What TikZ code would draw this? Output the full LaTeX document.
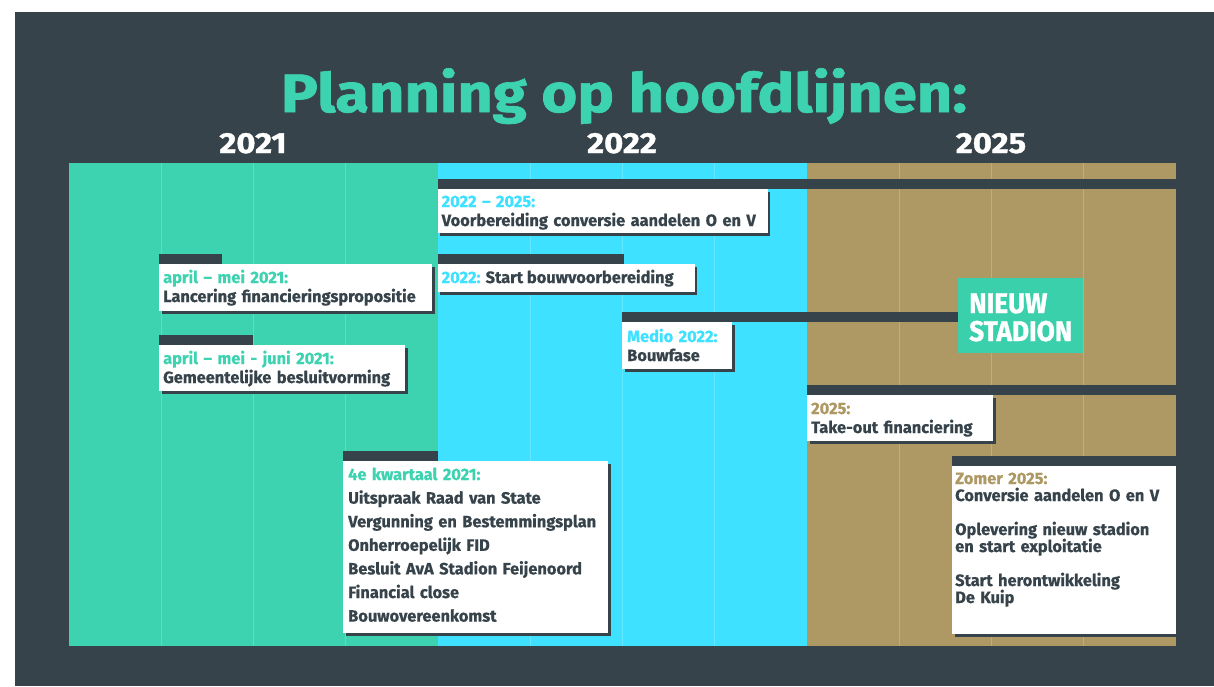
\documentclass[tikz,border=0pt]{standalone}
\usepackage{fontspec}
\usepackage{graphicx}
\setmainfont{Fira Sans}[BoldFeatures={FakeBold=0.7}]
\newfontfamily\headfont{Fira Sans}[UprightFont={* Bold}, FakeBold=1.2]
\usetikzlibrary{calc,shadows}

\definecolor{slate}{HTML}{37434A}
\definecolor{mint}{HTML}{3DD3B1}
\definecolor{sky}{HTML}{3EE1FF}
\definecolor{sand}{HTML}{AE9964}
\definecolor{logomint}{HTML}{3BD0AC}

\tikzset{
  band/.style={fill=#1, draw=none},
  gridline/.style={draw=white, draw opacity=0.2, line width=1.1pt},
  bar/.style={fill=slate, draw=none},
  card/.style={fill=white, draw=none, inner sep=0pt, anchor=north west,
    drop shadow={shadow xshift=2.5pt, shadow yshift=-2.5pt, fill=slate, opacity=1}},
  lbl/.style={anchor=base west, inner sep=0pt, align=left, text=slate,
    font=\bfseries\fontsize{16.4}{19}\selectfont},
  title/.style={anchor=base, inner sep=0pt, text=mint,
    font=\headfont\fontsize{54}{60}\selectfont},
  year/.style={anchor=base, inner sep=0pt, text=white,
    font=\headfont\fontsize{29}{32}\selectfont},
}

\begin{document}
\begin{tikzpicture}[x=1pt, y=-1pt]
  % canvas and dark panel
  \useasboundingbox (0,0) rectangle (1214,686);
  \fill[white] (0,0) rectangle (1214,686);
  \fill[slate] (15,12) rectangle (1214,686);

  % heading and year labels
  \node[title] (title) at (624,112) {\scalebox{1.14}[1]{Planning op hoofdlijnen:}};
  \node[year] (y2021) at (253,153) {\scalebox{1.13}[1]{2021}};
  \node[year] (y2022) at (622,153) {\scalebox{1.13}[1]{2022}};
  \node[year] (y2025) at (991,153) {\scalebox{1.13}[1]{2025}};

  % coloured year bands
  \fill[band=mint] (69,163) rectangle (437.5,646);
  \fill[band=sky]  (437.5,163) rectangle (807,646);
  \fill[band=sand] (807,163) rectangle (1176,646);
  \foreach \k in {1,2,3,5,6,7,9,10,11}
    \draw[gridline] ({69+92.25*\k},163) -- ({69+92.25*\k},646);

  % 2022 - 2025: voorbereiding conversie
  \fill[bar] (437.5,179) rectangle (1176,189);
  \node[card, minimum width=330pt, minimum height=44pt] (c1) at (437.5,189) {};
  \node[lbl, text width=330pt] (t1) at ($(c1.north west)+(4,18)$)
    {\textcolor{sky}{2022 – 2025:}\\Voorbereiding conversie aandelen O en V};

  % 2022: start bouwvoorbereiding
  \fill[bar] (437.5,254) rectangle (624,264);
  \node[card, minimum width=257pt, minimum height=28pt] (c2) at (437.5,264) {};
  \node[lbl] (t2) at ($(c2.north west)+(4,19)$)
    {\textcolor{sky}{2022:} Start bouwvoorbereiding};

  % medio 2022: bouwfase, running to the new stadium
  \node[fill=logomint, inner sep=0pt, anchor=north west,
        minimum width=125pt, minimum height=75pt] (logo) at (958,278) {};
  \node[anchor=base west, inner sep=0pt, text=white, align=left, text width=120pt,
        font=\headfont\fontsize{28.5}{28}\selectfont] (logotext)
        at ($(logo.north west)+(11,35)$)
    {\scalebox{0.92}[1]{NIEUW}\\\scalebox{0.92}[1]{STADION}};
  \fill[bar] (622,312) rectangle (logo.west |- 0,322);
  \node[card, minimum width=110pt, minimum height=47pt] (c3) at (622,322) {};
  \node[lbl, text width=110pt] (t3) at ($(c3.north west)+(5,20)$)
    {\textcolor{sky}{Medio 2022:}\\Bouwfase};

  % 2025: take-out financiering
  \fill[bar] (807,385) rectangle (1176,395);
  \node[card, minimum width=186pt, minimum height=46pt] (c4) at (807,395) {};
  \node[lbl, text width=186pt] (t4) at ($(c4.north west)+(4,19)$)
    {\textcolor{sand}{2025:}\\Take-out financiering};

  % zomer 2025
  \fill[bar] (952,456) rectangle (1176,466);
  \node[card, minimum width=224pt, minimum height=168pt] (c5) at (952,466) {};
  \node[lbl, text width=224pt, font=\bfseries\fontsize{16.4}{17}\selectfont] (t5)
    at ($(c5.north west)+(3,18)$)
    {\textcolor{sand}{Zomer 2025:}\\Conversie aandelen O en V\\[17pt]
     Oplevering nieuw stadion\\en start exploitatie\\[17pt]
     Start herontwikkeling\\De Kuip};

  % april - mei 2021
  \fill[bar] (159,254) rectangle (222,264);
  \node[card, minimum width=273pt, minimum height=47pt] (c6) at (159,264) {};
  \node[lbl, text width=273pt] (t6) at ($(c6.north west)+(4,19)$)
    {\textcolor{mint}{april – mei 2021:}\\Lancering financieringspropositie};

  % april - mei - juni 2021
  \fill[bar] (159,335) rectangle (253,345);
  \node[card, minimum width=246pt, minimum height=46pt] (c7) at (159,345) {};
  \node[lbl, text width=246pt] (t7) at ($(c7.north west)+(4,19)$)
    {\textcolor{mint}{april – mei - juni 2021:}\\Gemeentelijke besluitvorming};

  % 4e kwartaal 2021
  \fill[bar] (343,451) rectangle (437.5,461);
  \node[card, minimum width=265pt, minimum height=172pt] (c8) at (343,461) {};
  \node[lbl, text width=265pt, font=\bfseries\fontsize{16.4}{23.6}\selectfont] (t8)
    at ($(c8.north west)+(5,19)$)
    {\textcolor{mint}{4e kwartaal 2021:}\\Uitspraak Raad van State\\
     Vergunning en Bestemmingsplan\\Onherroepelijk FID\\
     Besluit AvA Stadion Feijenoord\\Financial close\\Bouwovereenkomst};
\end{tikzpicture}
\end{document}
